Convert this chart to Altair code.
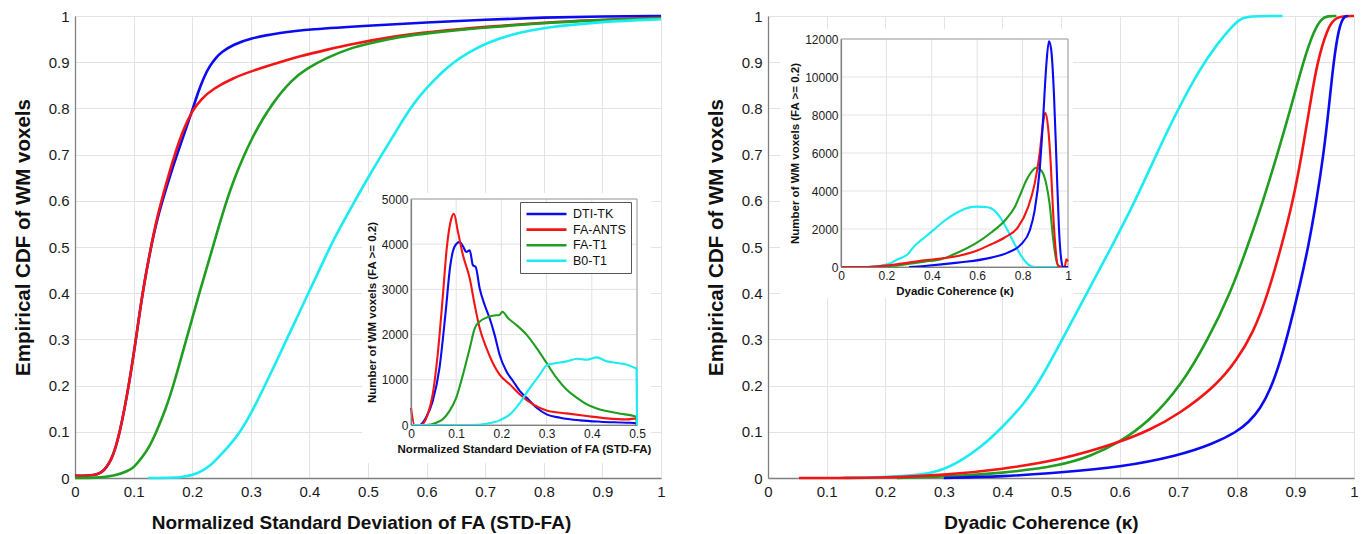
import altair as alt
import pandas as pd

FONT = "Liberation Sans, Arial, Helvetica, sans-serif"
SERIES = ["DTI-TK", "FA-ANTS", "FA-T1", "B0-T1"]
COLORS = ["#0b0bf2", "#f31515", "#1f9e1f", "#1aecf2"]

# ---------------- left main panel: CDF of STD-FA ----------------
L_blue_x = [0, 0.035, 0.05, 0.065, 0.077, 0.092, 0.104, 0.115, 0.128, 0.14, 0.155, 0.17, 0.185, 0.2, 0.21, 0.22, 0.23, 0.24, 0.25, 0.27, 0.3, 0.35, 0.4, 0.5, 0.6, 0.7, 0.8, 0.9, 1.0]
L_blue_y = [0.005, 0.005, 0.015, 0.045, 0.1, 0.2, 0.3, 0.4, 0.49, 0.56, 0.625, 0.685, 0.74, 0.795, 0.835, 0.868, 0.892, 0.909, 0.922, 0.938, 0.952, 0.964, 0.971, 0.979, 0.986, 0.992, 0.997, 0.999, 1.0]
L_red_x = [0, 0.035, 0.05, 0.065, 0.077, 0.092, 0.104, 0.115, 0.128, 0.14, 0.155, 0.17, 0.185, 0.2, 0.215, 0.236, 0.27, 0.304, 0.35, 0.384, 0.43, 0.47, 0.55, 0.6, 0.714, 0.828, 0.9, 1.0]
L_red_y = [0.005, 0.005, 0.015, 0.045, 0.1, 0.2, 0.3, 0.4, 0.49, 0.565, 0.635, 0.7, 0.755, 0.795, 0.82, 0.843, 0.866, 0.882, 0.9, 0.913, 0.927, 0.939, 0.957, 0.965, 0.978, 0.988, 0.992, 0.996]
L_green_x = [0, 0.035, 0.07, 0.09, 0.1, 0.115, 0.128, 0.139, 0.155, 0.168, 0.19, 0.212, 0.233, 0.25, 0.27, 0.304, 0.338, 0.37, 0.395, 0.43, 0.469, 0.5, 0.555, 0.6, 0.714, 0.828, 0.9, 1.0]
L_green_y = [0, 0, 0.005, 0.015, 0.022, 0.045, 0.07, 0.1, 0.15, 0.2, 0.3, 0.4, 0.49, 0.565, 0.645, 0.744, 0.814, 0.862, 0.886, 0.91, 0.93, 0.94, 0.955, 0.963, 0.977, 0.987, 0.991, 0.995]
L_cyan_x = [0.125, 0.185, 0.21, 0.23, 0.247, 0.265, 0.282, 0.3, 0.324, 0.343, 0.361, 0.38, 0.398, 0.417, 0.435, 0.455, 0.475, 0.5, 0.526, 0.55, 0.572, 0.59, 0.606, 0.625, 0.646, 0.67, 0.702, 0.75, 0.8, 0.9, 1.0]
L_cyan_y = [0, 0, 0.01, 0.025, 0.048, 0.072, 0.1, 0.138, 0.2, 0.25, 0.3, 0.35, 0.4, 0.45, 0.5, 0.548, 0.594, 0.65, 0.705, 0.755, 0.8, 0.83, 0.852, 0.877, 0.9, 0.92, 0.942, 0.962, 0.975, 0.988, 0.993]

# ---------------- left inset: histogram of STD-FA ----------------
LI_blue_x = [0, 0.019, 0.033, 0.048, 0.063, 0.076, 0.087, 0.096, 0.107, 0.116, 0.122, 0.13, 0.137, 0.143, 0.152, 0.163, 0.174, 0.185, 0.196, 0.211, 0.226, 0.241, 0.256, 0.278, 0.3, 0.33, 0.374, 0.419, 0.478, 0.498, 0.5]
LI_blue_y = [0, 0, 161, 528, 1261, 2434, 3534, 3937, 4047, 3937, 3827, 3864, 3534, 3497, 3020, 2654, 2361, 1994, 1554, 1188, 968, 748, 601, 381, 235, 161, 103, 73, 51, 40, 0]
LI_red_x = [0, 0.008, 0.022, 0.037, 0.048, 0.059, 0.07, 0.079, 0.089, 0.095, 0.104, 0.115, 0.13, 0.141, 0.152, 0.167, 0.181, 0.196, 0.219, 0.241, 0.27, 0.3, 0.344, 0.389, 0.433, 0.478, 0.499, 0.5]
LI_red_y = [380, 0, 0, 235, 675, 1554, 2800, 3900, 4560, 4670, 4267, 3754, 3240, 2654, 2140, 1700, 1371, 1114, 894, 674, 455, 323, 257, 198, 147, 125, 147, 0]
LI_green_x = [0, 0.033, 0.056, 0.07, 0.085, 0.1, 0.115, 0.13, 0.141, 0.152, 0.167, 0.181, 0.196, 0.202, 0.215, 0.233, 0.256, 0.278, 0.3, 0.322, 0.344, 0.367, 0.389, 0.411, 0.433, 0.463, 0.493, 0.499, 0.5]
LI_green_y = [0, 0, 51, 125, 308, 601, 1114, 1700, 2140, 2287, 2375, 2419, 2434, 2507, 2361, 2214, 1994, 1700, 1371, 1041, 784, 601, 455, 367, 308, 249, 198, 160, 0]
LI_cyan_x = [0, 0.13, 0.167, 0.196, 0.219, 0.241, 0.263, 0.285, 0.3, 0.322, 0.344, 0.367, 0.389, 0.411, 0.433, 0.456, 0.478, 0.496, 0.499, 0.5]
LI_cyan_y = [0, 0, 29, 103, 235, 491, 821, 1114, 1320, 1371, 1408, 1466, 1444, 1496, 1408, 1371, 1334, 1261, 1250, 0]

# ---------------- right main panel: CDF of dyadic coherence ----------------
R_blue_x = [0.3, 0.4, 0.5, 0.6, 0.7, 0.76, 0.8, 0.82, 0.84, 0.857, 0.875, 0.892, 0.908, 0.922, 0.936, 0.948, 0.957, 0.965, 0.974, 0.983, 0.99]
R_blue_y = [0, 0.003, 0.012, 0.023, 0.048, 0.074, 0.1, 0.12, 0.15, 0.19, 0.255, 0.335, 0.42, 0.5, 0.6, 0.7, 0.8, 0.9, 0.975, 1.0, 1.0]
R_red_x = [0.053, 0.13, 0.2, 0.3, 0.4, 0.5, 0.6, 0.65, 0.7, 0.765, 0.8, 0.828, 0.851, 0.876, 0.896, 0.911, 0.924, 0.937, 0.955, 0.969, 1.0]
R_red_y = [0, 0, 0.001, 0.006, 0.019, 0.039, 0.077, 0.103, 0.137, 0.2, 0.255, 0.315, 0.39, 0.5, 0.6, 0.7, 0.8, 0.9, 0.975, 1.0, 1.0]
R_green_x = [0.22, 0.3, 0.4, 0.5, 0.55, 0.6, 0.651, 0.705, 0.751, 0.789, 0.818, 0.845, 0.869, 0.892, 0.913, 0.932, 0.945, 0.955, 0.97]
R_green_y = [0, 0.003, 0.01, 0.027, 0.047, 0.077, 0.123, 0.2, 0.3, 0.4, 0.5, 0.6, 0.7, 0.8, 0.9, 0.97, 0.995, 1.0, 1.0]
R_cyan_x = [0.13, 0.2, 0.25, 0.295, 0.329, 0.363, 0.4, 0.437, 0.466, 0.5, 0.54, 0.582, 0.625, 0.659, 0.696, 0.739, 0.767, 0.79, 0.805, 0.818, 0.878]
R_cyan_y = [0, 0.002, 0.005, 0.015, 0.037, 0.066, 0.11, 0.16, 0.215, 0.295, 0.39, 0.49, 0.595, 0.69, 0.79, 0.89, 0.94, 0.975, 0.993, 1.0, 1.0]

# ---------------- right inset: histogram of dyadic coherence ----------------
RI_blue_x = [0.3, 0.368, 0.515, 0.662, 0.735, 0.794, 0.831, 0.853, 0.875, 0.89, 0.904, 0.916, 0.926, 0.938, 0.949, 0.96, 0.971, 0.978, 1.0]
RI_blue_y = [0, 53, 229, 494, 759, 1200, 1906, 2965, 5082, 7729, 10553, 11876, 11435, 9141, 5612, 2082, 318, 0, 0]
RI_red_x = [0, 0.118, 0.22, 0.368, 0.515, 0.588, 0.662, 0.721, 0.779, 0.824, 0.853, 0.875, 0.89, 0.9, 0.912, 0.924, 0.934, 0.946, 0.956, 0.985, 0.993, 1.0]
RI_red_y = [0, 0, 106, 353, 582, 812, 1200, 1553, 2082, 3141, 4376, 5965, 7553, 8118, 7376, 5435, 2965, 847, 53, 0, 406, 300]
RI_green_x = [0.118, 0.22, 0.368, 0.441, 0.515, 0.588, 0.662, 0.721, 0.765, 0.794, 0.816, 0.838, 0.86, 0.882, 0.904, 0.919, 0.934, 0.949, 0.963]
RI_green_y = [0, 53, 282, 406, 759, 1200, 1818, 2435, 3141, 3935, 4553, 4994, 5224, 5082, 4376, 3318, 1553, 318, 0]
RI_cyan_x = [0, 0.118, 0.206, 0.25, 0.294, 0.324, 0.368, 0.412, 0.456, 0.5, 0.544, 0.596, 0.647, 0.676, 0.706, 0.735, 0.765, 0.794, 0.824, 0.853, 1.0]
RI_cyan_y = [0, 0, 141, 406, 670, 1112, 1553, 1994, 2435, 2788, 3053, 3176, 3141, 2965, 2524, 1906, 1200, 582, 141, 0, 0]

# ticks
MAIN_TICKS = [0, 0.1, 0.2, 0.3, 0.4, 0.5, 0.6, 0.7, 0.8, 0.9, 1.0]
LI_XTICKS = [0, 0.1, 0.2, 0.3, 0.4, 0.5]
LI_YTICKS = [0, 1000, 2000, 3000, 4000, 5000]
RI_XTICKS = [0, 0.2, 0.4, 0.6, 0.8, 1.0]
RI_YTICKS = [0, 2000, 4000, 6000, 8000, 10000, 12000]


def long_df(pairs):
    rows = []
    for name, xs, ys in pairs:
        for i, (a, b) in enumerate(zip(xs, ys)):
            rows.append({"series": name, "x": a, "y": b, "i": i})
    return pd.DataFrame(rows)


W, H = 586, 462
color_scale = alt.Scale(domain=SERIES, range=COLORS)
GRID = "#e3e3e3"
DOMAIN = "#808080"

LEGEND = alt.Legend(orient="none", legendX=445, legendY=186, title=None,
                    symbolType="stroke", symbolSize=1600, symbolStrokeWidth=2.6,
                    clipHeight=14, rowPadding=1.6, padding=5, strokeColor="#555",
                    fillColor="white", labelFontSize=12.5, labelFont=FONT,
                    labelOffset=5, labelColor="#111", cornerRadius=0, zindex=2)


def main_axis(title, tpad, size, tpos):
    return alt.Axis(values=MAIN_TICKS, format="~g", title=title, labelFontSize=15,
                    titleFontSize=size, titleFontWeight="bold", labelPadding=6,
                    titlePadding=tpad, ticks=False, grid=True, gridColor=GRID,
                    domainColor=DOMAIN, domainWidth=1.3, labelFlush=False,
                    labelOverlap=False, labelColor="#1a1a1a", titleColor="#111",
                    **tpos)


def inset_axis(values, title, orient, offset, fmt):
    return alt.Axis(values=values, format=fmt, title=title, orient=orient, offset=offset,
                    labelFontSize=12, titleFontSize=11.5, titleFontWeight="bold",
                    labelPadding=3, titlePadding=4, ticks=False, grid=False,
                    domainColor=DOMAIN, domainWidth=1.2, labelFlush=False,
                    labelOverlap=False, labelColor="#1a1a1a", titleColor="#111",
                    zindex=1)


def panel(main_pairs, inset_pairs, xtitle, ytitle, xtitle_x,
          ix_dom, ix_rng, iy_dom, iy_rng, ixticks, iyticks, ixtitle, iytitle,
          backdrop):
    main = alt.Chart(long_df(main_pairs)).mark_line(strokeWidth=2.6, interpolate="basis").encode(
        x=alt.X("x:Q", scale=alt.Scale(domain=[0, 1], nice=False, zero=False),
                axis=main_axis(xtitle, 14, 19, {"titleX": xtitle_x})),
        y=alt.Y("y:Q", scale=alt.Scale(domain=[0, 1], nice=False),
                axis=main_axis(ytitle, 15, 20.5, {"titleY": 221})),
        color=alt.Color("series:N", scale=color_scale, legend=LEGEND),
        order="i:Q",
    )
    bx0, bx1, by0, by1 = backdrop
    back = alt.Chart(pd.DataFrame({"k": [0]})).mark_rect(fill="white").encode(
        x=alt.value(bx0), x2=alt.value(bx1), y=alt.value(by0), y2=alt.value(by1))
    xs = alt.Scale(domain=ix_dom, range=ix_rng, nice=False, zero=False)
    ys = alt.Scale(domain=iy_dom, range=iy_rng, nice=False, zero=False)
    gx = alt.Chart(pd.DataFrame({"t": ixticks, "a": iy_dom[0], "b": iy_dom[1]})).mark_rule(
        color=GRID, strokeWidth=1).encode(
        x=alt.X("t:Q", scale=xs, axis=None), y=alt.Y("a:Q", scale=ys, axis=None), y2="b:Q")
    gy = alt.Chart(pd.DataFrame({"t": iyticks, "a": ix_dom[0], "b": ix_dom[1]})).mark_rule(
        color=GRID, strokeWidth=1).encode(
        y=alt.Y("t:Q", scale=ys, axis=None), x=alt.X("a:Q", scale=xs, axis=None), x2="b:Q")
    frame = alt.Chart(pd.DataFrame({"x0": [ix_dom[0]], "x1": [ix_dom[1]], "y0": [iy_dom[0]], "y1": [iy_dom[1]]})).mark_rect(
        fillOpacity=0, stroke="#a0a0a0", strokeWidth=1).encode(
        x=alt.X("x0:Q", scale=xs, axis=None), x2="x1:Q",
        y=alt.Y("y0:Q", scale=ys, axis=None), y2="y1:Q")
    inset = alt.Chart(long_df(inset_pairs)).mark_line(strokeWidth=2.1, interpolate="monotone").encode(
        x=alt.X("x:Q", scale=xs, axis=inset_axis(ixticks, ixtitle, "bottom", -(H - iy_rng[0]), "~g")),
        y=alt.Y("y:Q", scale=ys, axis=inset_axis(iyticks, iytitle, "left", -ix_rng[0], "d")),
        color=alt.Color("series:N", scale=color_scale, legend=LEGEND),
        order="i:Q",
    )
    return alt.layer(main, back, gx, gy, frame, inset).resolve_scale(
        x="independent", y="independent").properties(width=W, height=H)


left = panel(
    [(SERIES[0], L_blue_x, L_blue_y), (SERIES[1], L_red_x, L_red_y),
     (SERIES[2], L_green_x, L_green_y), (SERIES[3], L_cyan_x, L_cyan_y)],
    [(SERIES[0], LI_blue_x, LI_blue_y), (SERIES[1], LI_red_x, LI_red_y),
     (SERIES[2], LI_green_x, LI_green_y), (SERIES[3], LI_cyan_x, LI_cyan_y)],
    "Normalized Standard Deviation of FA (STD-FA)", "Empirical CDF of WM voxels", 286,
    [0, 0.5], [336, 562], [0, 5000], [409, 183], LI_XTICKS, LI_YTICKS,
    "Normalized Standard Deviation of FA (STD-FA)", "Number of WM voxels (FA >= 0.2)",
    (287, 576, 177, 447))

right = panel(
    [(SERIES[3], R_cyan_x, R_cyan_y), (SERIES[2], R_green_x, R_green_y),
     (SERIES[1], R_red_x, R_red_y), (SERIES[0], R_blue_x, R_blue_y)],
    [(SERIES[3], RI_cyan_x, RI_cyan_y), (SERIES[2], RI_green_x, RI_green_y),
     (SERIES[1], RI_red_x, RI_red_y), (SERIES[0], RI_blue_x, RI_blue_y)],
    "Dyadic Coherence (\u03ba)", "Empirical CDF of WM voxels", 273,
    [0, 1], [73, 300], [0, 12000], [251, 23], RI_XTICKS, RI_YTICKS,
    "Dyadic Coherence (\u03ba)", "Number of WM voxels (FA >= 0.2)",
    (12, 305, 13, 282))

chart = alt.hconcat(left, right, spacing=38).properties(
    padding={"left": 4, "top": 0, "right": 0, "bottom": 0}
).configure_view(stroke=None).configure(font=FONT).configure_axis(labelFont=FONT, titleFont=FONT)

chart.save("out.html", embed_options={"renderer": "svg", "actions": False})
